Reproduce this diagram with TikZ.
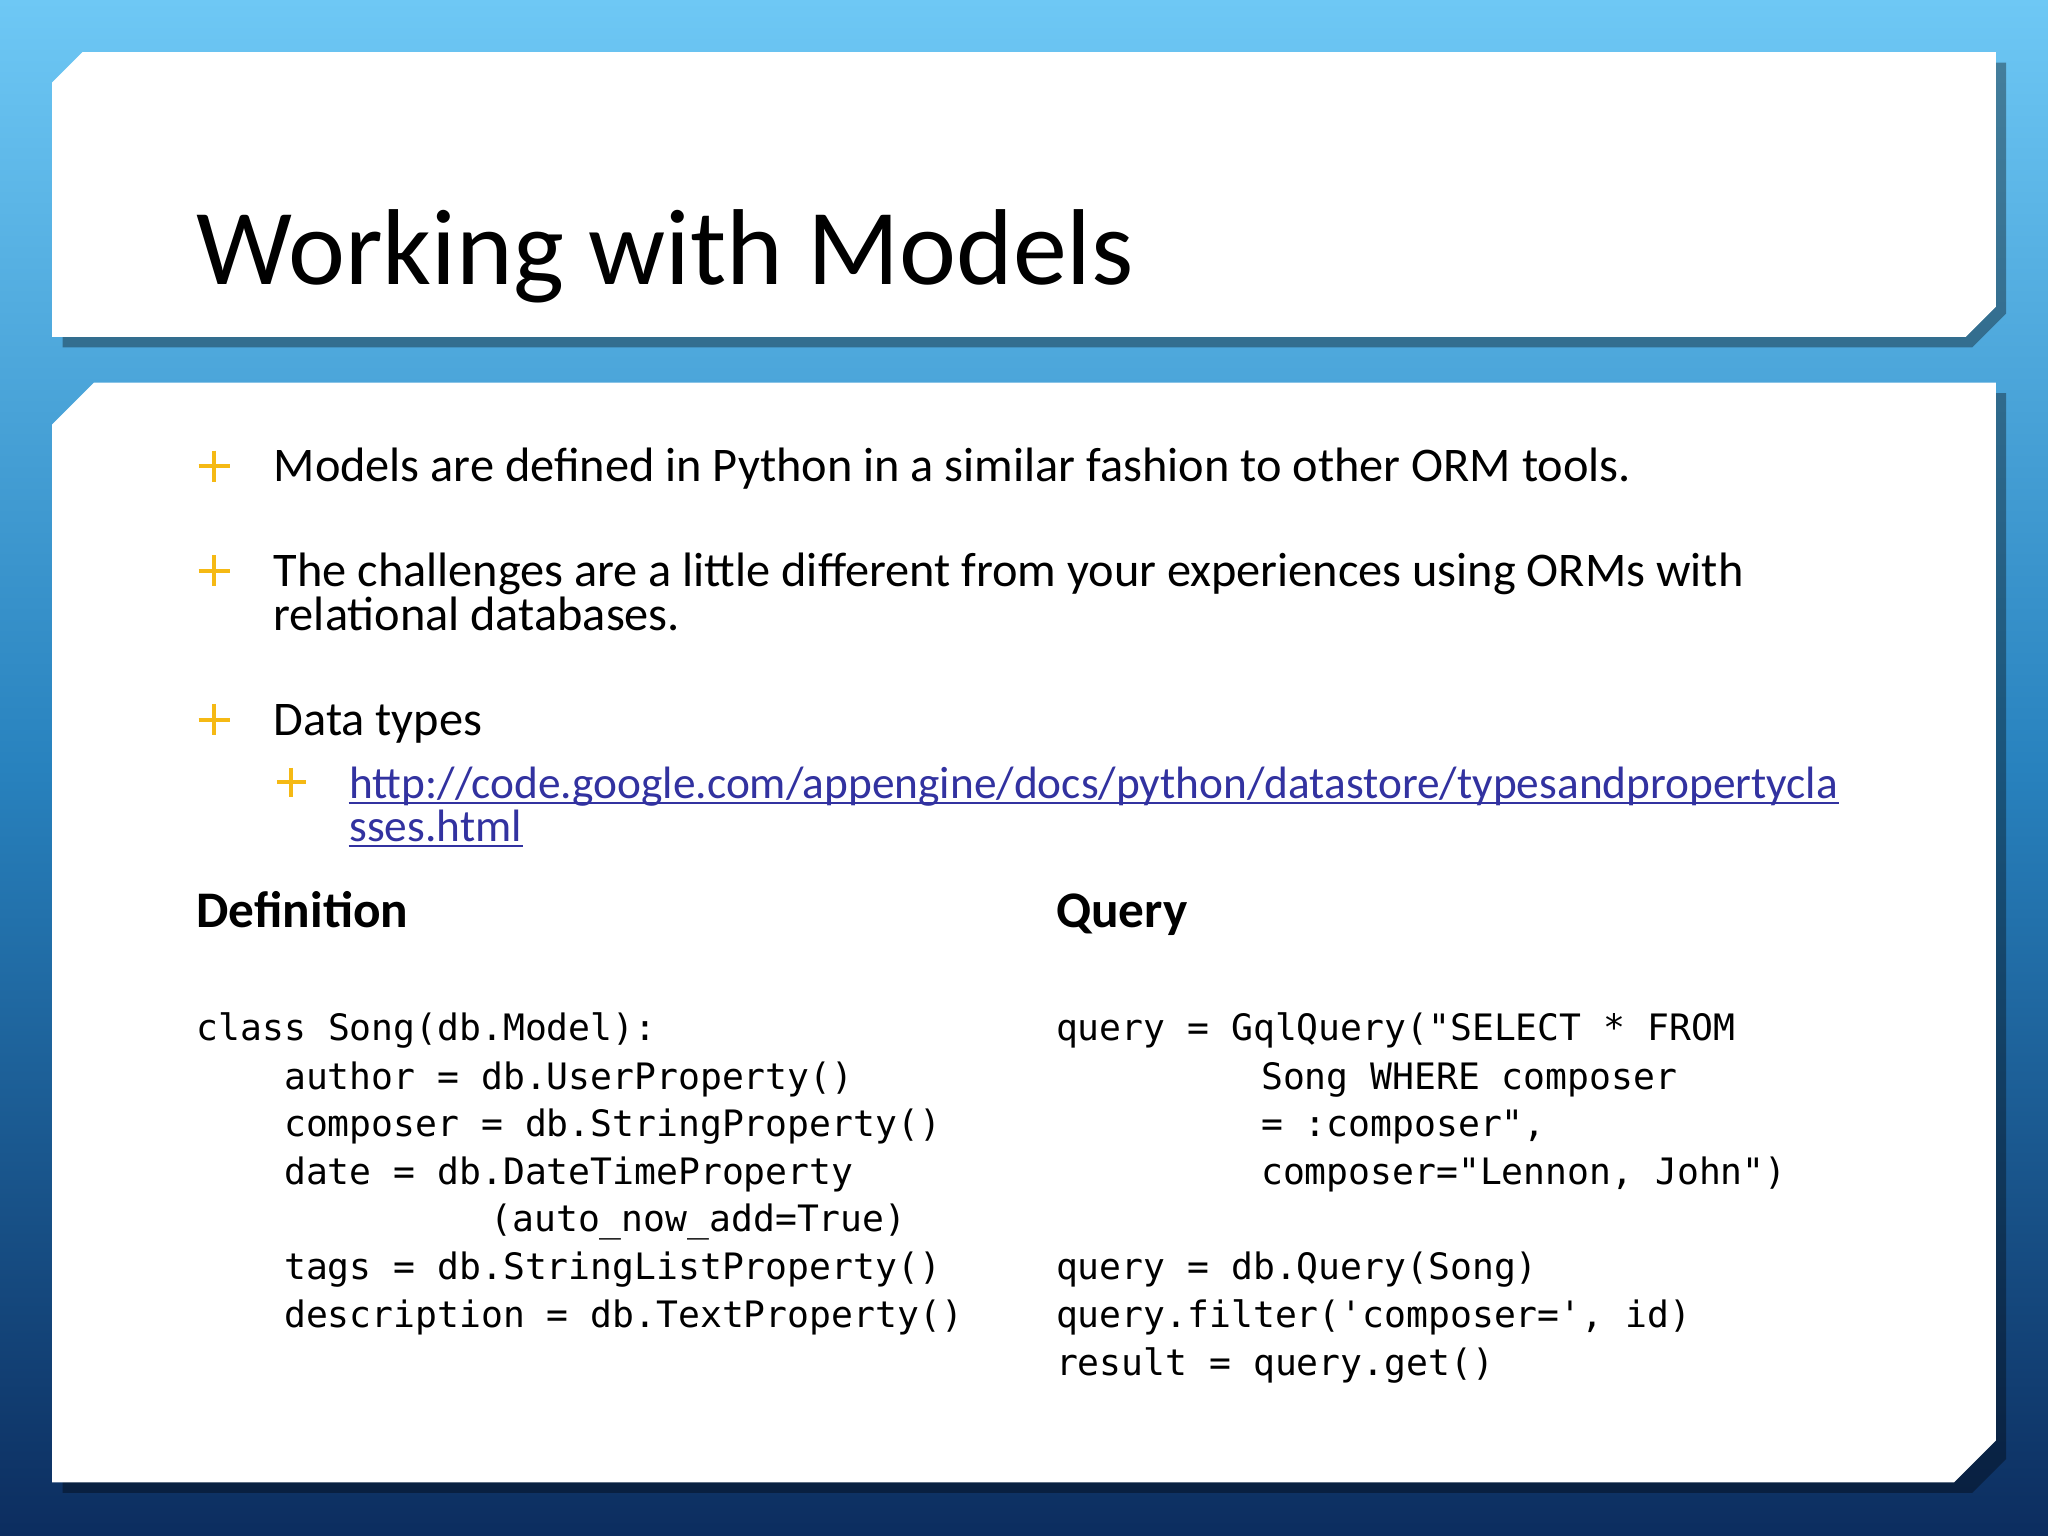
\documentclass[tikz,border=0pt]{standalone}
\usepackage{fontspec}
\setmainfont{Carlito}
\newfontfamily\codefont{DejaVu Sans Mono}
\definecolor{bgtop}{RGB}{110,200,245}
\definecolor{bgmid}{RGB}{40,130,190}
\definecolor{bgbot}{RGB}{12,45,95}
\definecolor{plusc}{RGB}{245,185,20}
\definecolor{urlc}{RGB}{50,50,160}
\begin{document}
\begin{tikzpicture}[x=0.01306cm,y=-0.01306cm,
  txt/.style={anchor=base west,inner sep=0pt,text=black},
  body/.style={txt,font=\fontsize{13.75}{16}\selectfont},
  code/.style={txt,font=\codefont\fontsize{10.35}{12}\selectfont},
  head/.style={txt,font=\bfseries\fontsize{14.6}{17}\selectfont},
  plusmark/.style={draw=plusc,line width=1.2pt}]
\useasboundingbox (0,0) rectangle (1568,1176);
\shade[top color=bgtop,bottom color=bgbot,middle color=bgmid] (0,0) rectangle (1568,1176);
% shadows
\fill[black,opacity=0.35] (48,66) -- (68,48) -- (1536,48) -- (1536,240) -- (1510,266) -- (48,266) -- cycle;
\fill[black,opacity=0.35] (48,319) -- (74,301) -- (1536,301) -- (1536,1117) -- (1510,1143) -- (48,1143) -- cycle;
% boxes
\fill[white] (40,63) -- (63,40) -- (1528,40) -- (1528,235) -- (1505,258) -- (40,258) -- cycle;
\fill[white] (40,325) -- (72,293) -- (1528,293) -- (1528,1103) -- (1496,1135) -- (40,1135) -- cycle;
\node[txt,font=\fontsize{30.7}{34}\selectfont] (title) at (150,218) {Working with Models};
% bullets
\foreach \yy in {357,437,551}{\draw[plusmark] (152,\yy) -- (176,\yy) (164,\yy-12) -- (164,\yy+12);}
\draw[plusmark,line width=1.1pt] (212,599) -- (234,599) (223,588) -- (223,610);
\node[body] (b1) at (209,369) {Models are defined in Python in a similar fashion to other ORM tools.};
\node[body] (b2) at (209,449) {The challenges are a little different from your experiences using ORMs with};
\node[body] (b2b) at (209,483) {relational databases.};
\node[body] (b3) at (209,563) {Data types};
\node[txt,font=\fontsize{12.9}{15}\selectfont,text=urlc] (u1) at (267,611) {http://code.google.com/appengine/docs/python/datastore/typesandpropertycla};
\node[txt,font=\fontsize{12.9}{15}\selectfont,text=urlc] (u2) at (267,644) {sses.html};
\draw[urlc,line width=0.6pt] ([yshift=-1.3pt]u1.base west) -- ([yshift=-1.3pt]u1.base east);
\draw[urlc,line width=0.6pt] ([yshift=-1.3pt]u2.base west) -- ([yshift=-1.3pt]u2.base east);
\node[head] (def) at (150,710) {Definition};
\node[head] (qry) at (808,710) {Query};
% code left
\node[code] (l1) at (150,797) {class Song(db.Model):};
\node[code] (l2) at (217,834) {author = db.UserProperty()};
\node[code] (l3) at (217,870) {composer = db.StringProperty()};
\node[code] (l4) at (217,907) {date = db.DateTimeProperty};
\node[code] (l5) at (375,943) {(auto\_now\_add=True)};
\node[code] (l6) at (217,980) {tags = db.StringListProperty()};
\node[code] (l7) at (217,1016) {description = db.TextProperty()};
% code right
\node[code] (r1) at (808,797) {query = GqlQuery("SELECT * FROM};
\node[code] (r2) at (965,834) {Song WHERE composer};
\node[code] (r3) at (965,870) {= :composer",};
\node[code] (r4) at (965,907) {composer="Lennon, John")};
\node[code] (r5) at (808,980) {query = db.Query(Song)};
\node[code] (r6) at (808,1016) {query.filter('composer=', id)};
\node[code] (r7) at (808,1053) {result = query.get()};
\end{tikzpicture}
\end{document}
